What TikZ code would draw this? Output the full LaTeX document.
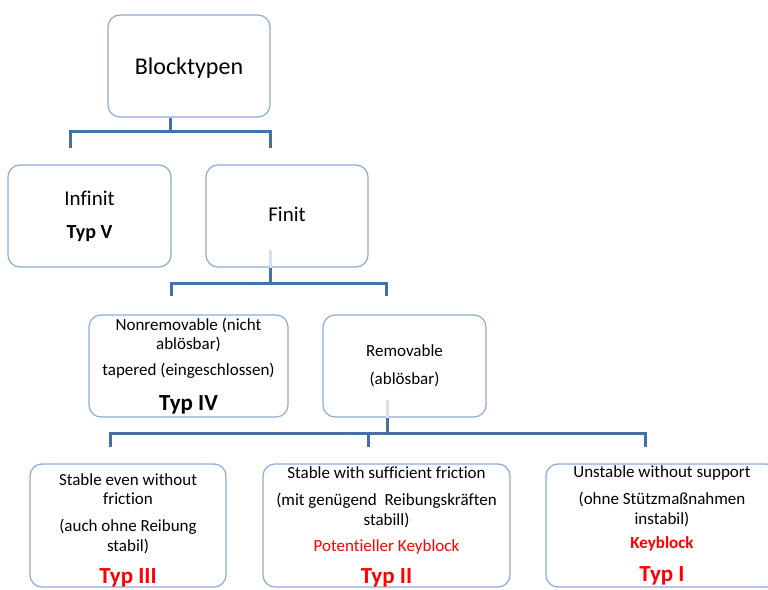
\documentclass[tikz,border=0pt]{standalone}
\usepackage{fontspec}
\setmainfont{Carlito}[Ligatures=NoCommon]
\definecolor{boxline}{HTML}{8DAAD8}
\definecolor{conn}{HTML}{4670A8}
\definecolor{keyred}{HTML}{FF0000}
\newcommand\typfont{\fontsize{23}{26}\selectfont\bfseries}
\newcommand\upstrut[1]{\rule{0pt}{#1}}
\newcommand\downstrut[1]{\rule[-#1]{0pt}{0pt}}
\begin{document}
\begin{tikzpicture}[x=1pt,y=-1pt,line join=miter,
  blockbox/.style={draw=boxline,line width=1.2pt,rounded corners=12pt,fill=white,align=center,inner sep=0pt},
  conline/.style={draw=conn,line width=3pt},
  faint/.style={draw=conn!22,line width=3pt},
  body/.style={font=\fontsize{17}{19.5}\selectfont}]
\useasboundingbox (0,0) rectangle (768,589);
\clip (0,0) rectangle (768,589);
% junctions and free ends
\coordinate (j1) at (170,131);
\coordinate (e1) at (70,148);
\coordinate (e2) at (270,148);
\coordinate (j2) at (270,283);
\coordinate (e3) at (171,296);
\coordinate (e4) at (386,296);
\coordinate (j3) at (387,433);
\coordinate (e5) at (110,447);
\coordinate (e6) at (368,447);
\coordinate (e7) at (645,447);
\coordinate (f1) at (270,250);
\coordinate (f2) at (387,400);
% connectors
\draw[conline] (e1) |- (j1) -| (e2);
\draw[conline] (e3) |- (j2) -| (e4);
\draw[conline] (e5) |- (j3) -| (e7);
\draw[conline] (e6) -- (e6 |- j3);
% boxes
\node[blockbox,minimum width=162pt,minimum height=102pt,font=\fontsize{24}{28}\selectfont] (root) at (189,66) {\upstrut{21pt}Blocktypen};
\node[blockbox,minimum width=163pt,minimum height=102pt,font=\fontsize{21}{25}\selectfont] (inf) at (89.5,216) {Infinit\\[8pt]{\fontsize{20}{24}\selectfont\bfseries Typ V}};
\node[blockbox,minimum width=162pt,minimum height=102pt,font=\fontsize{21}{25}\selectfont] (fin) at (287,216) {Finit\downstrut{4pt}};
\node[blockbox,body,minimum width=199pt,minimum height=102pt] (nonrem) at (188.5,366) {Nonremovable (nicht\\ablösbar)\\[6.5pt]tapered (eingeschlossen)\\[15.5pt]{\typfont Typ IV}};
\node[blockbox,body,minimum width=163pt,minimum height=102pt] (rem) at (404.5,366) {Removable\\[8.5pt](ablösbar)};
\node[blockbox,body,minimum width=196pt,minimum height=123pt] (typ3) at (128,525.5) {\upstrut{21pt}Stable even without\\friction\\[7.5pt](auch ohne Reibung\\stabil)\\[12.5pt]{\typfont\color{keyred}Typ III}};
\node[blockbox,body,minimum width=247pt,minimum height=123pt] (typ2) at (386.5,525.5) {\upstrut{15pt}Stable with sufficient friction\\[7.5pt](mit genügend\ \ Reibungskräften\\stabill)\\[6.5pt]{\color{keyred}Potentieller Keyblock}\\[12.5pt]{\typfont\color{keyred}Typ II}};
\node[blockbox,body,minimum width=232pt,minimum height=123pt] (typ1) at (662,525.5) {\upstrut{12pt}Unstable without support\\[8pt](ohne Stützmaßnahmen\\instabil)\\[5pt]{\bfseries\color{keyred}Keyblock}\\[13.5pt]{\typfont\color{keyred}Typ I}};
% stems from parents
\draw[conline] (root.south -| j1) -- (j1);
\draw[conline] (fin.south -| j2) -- (j2);
\draw[conline] (rem.south -| j3) -- (j3);
\draw[faint] (f1) -- (fin.south -| f1);
\draw[faint] (f2) -- (rem.south -| f2);
\end{tikzpicture}
\end{document}
